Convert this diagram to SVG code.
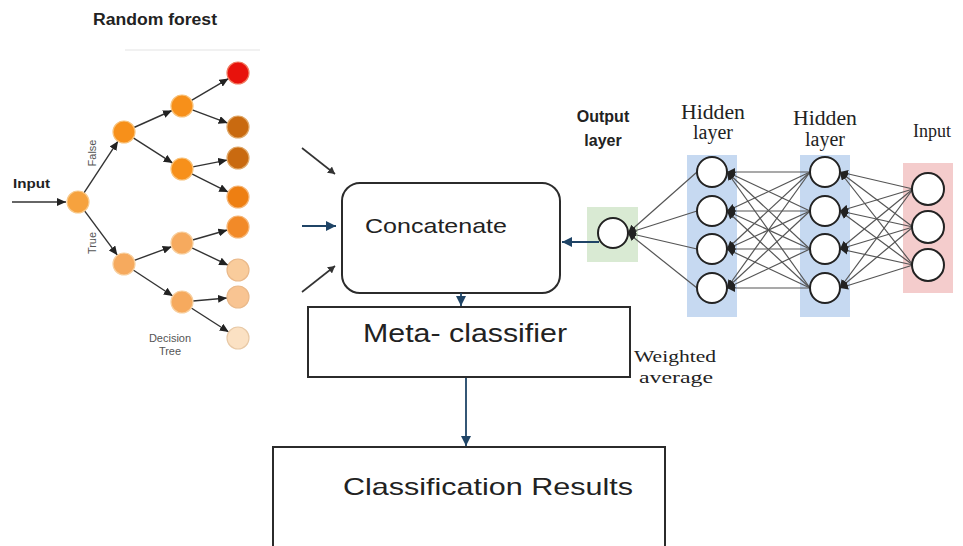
<svg xmlns="http://www.w3.org/2000/svg" width="963" height="546" viewBox="0 0 963 546">
  <defs>
    <style>
      .sans { font-family: "Liberation Sans", Arial, sans-serif; fill: #222; }
      .serif { font-family: "Liberation Serif", "Times New Roman", serif; fill: #222; }
      .muted { fill: #555; }
      .tedge { stroke: #333; stroke-width: 1.4; fill: none; marker-end: url(#tarrow); }
      .tnode { stroke-width: 1.2; }
      .nnedge { stroke: #555; stroke-width: 1.2; fill: none; marker-end: url(#narrow); }
      .nnnode { fill: #fff; stroke: #222; stroke-width: 2; }
      .box { fill: #fff; stroke: #2b2b2b; stroke-width: 2; }
      .flow { stroke: #1f4466; stroke-width: 1.8; fill: none; marker-end: url(#barrow); }
      .flowk { stroke: #333; stroke-width: 1.6; fill: none; marker-end: url(#karrow); }
    </style>
    <marker id="tarrow" markerUnits="userSpaceOnUse" markerWidth="10" markerHeight="8" refX="9" refY="4" orient="auto">
      <path d="M0,0 L9,4 L0,8 Z" fill="#222"/>
    </marker>
    <marker id="narrow" markerUnits="userSpaceOnUse" markerWidth="9" markerHeight="8" refX="8" refY="4" orient="auto">
      <path d="M0,0 L8,4 L0,8 Z" fill="#222"/>
    </marker>
    <marker id="barrow" markerUnits="userSpaceOnUse" markerWidth="11" markerHeight="10" refX="10" refY="5" orient="auto">
      <path d="M0,0 L10,5 L0,10 Z" fill="#1f4466"/>
    </marker>
    <marker id="karrow" markerUnits="userSpaceOnUse" markerWidth="8" markerHeight="8" refX="7" refY="4" orient="auto">
      <path d="M0,0 L7,4 L0,8 Z" fill="#333"/>
    </marker>
  </defs>

  <rect width="963" height="546" fill="#fff"/>

  <!-- Random forest panel -->
  <g id="random-forest">
    <text class="sans" x="93" y="25" font-size="16" font-weight="bold" textLength="124" lengthAdjust="spacingAndGlyphs">Random forest</text>
    <line x1="125" y1="50" x2="260" y2="50" stroke="#ececec" stroke-width="1.5"/>

    <text class="sans" x="13" y="188" font-size="12" font-weight="bold" textLength="37" lengthAdjust="spacingAndGlyphs">Input</text>
    <line class="tedge" x1="12" y1="202" x2="66" y2="202"/>

    <g id="tree-edges">
      <line class="tedge" x1="84" y1="192.8" x2="118" y2="141.2"/>
      <line class="tedge" x1="84.6" y1="210.8" x2="117.4" y2="255.2"/>
      <line class="tedge" x1="134" y1="127.5" x2="172" y2="110.5"/>
      <line class="tedge" x1="133.3" y1="137.9" x2="172.7" y2="163.1"/>
      <line class="tedge" x1="191.5" y1="100.4" x2="228.5" y2="78.6"/>
      <line class="tedge" x1="192.3" y1="109.9" x2="227.7" y2="123.1"/>
      <line class="tedge" x1="192.8" y1="166.9" x2="227.2" y2="160.1"/>
      <line class="tedge" x1="191.8" y1="173.9" x2="228.2" y2="192.1"/>
      <line class="tedge" x1="134.3" y1="260.3" x2="171.7" y2="246.7"/>
      <line class="tedge" x1="133.2" y1="270" x2="172.8" y2="296"/>
      <line class="tedge" x1="192.6" y1="240" x2="227.4" y2="230"/>
      <line class="tedge" x1="191.9" y1="247.8" x2="228.1" y2="265.2"/>
      <line class="tedge" x1="193" y1="301" x2="227" y2="298"/>
      <line class="tedge" x1="191.3" y1="308" x2="228.7" y2="332"/>
    </g>

    <text class="sans muted" transform="translate(96,153) rotate(-90)" font-size="11" text-anchor="middle">False</text>
    <text class="sans muted" transform="translate(96,243) rotate(-90)" font-size="11" text-anchor="middle">True</text>

    <g id="tree-nodes">
      <circle class="tnode" cx="78" cy="202" r="11" fill="#f6a23e" stroke="#f8c98a"/>
      <circle class="tnode" cx="124" cy="132" r="11" fill="#f7901a" stroke="#f8c27a"/>
      <circle class="tnode" cx="182" cy="106" r="11" fill="#f7901a" stroke="#f8c27a"/>
      <circle class="tnode" cx="182" cy="169" r="11" fill="#f7901a" stroke="#f8c27a"/>
      <circle class="tnode" cx="124" cy="264" r="11" fill="#f6aa5e" stroke="#f8cf9e"/>
      <circle class="tnode" cx="182" cy="243" r="11" fill="#f6aa5e" stroke="#f8cf9e"/>
      <circle class="tnode" cx="182" cy="302" r="11" fill="#f6aa5e" stroke="#f8cf9e"/>
      <circle class="tnode" cx="238" cy="73" r="11" fill="#e8120c" stroke="#f07a60"/>
      <circle class="tnode" cx="238" cy="127" r="11" fill="#c96a10" stroke="#e0a868"/>
      <circle class="tnode" cx="238" cy="158" r="11" fill="#c96a10" stroke="#e0a868"/>
      <circle class="tnode" cx="238" cy="197" r="11" fill="#ee7f12" stroke="#f6b677"/>
      <circle class="tnode" cx="238" cy="227" r="11" fill="#f28a28" stroke="#f6b677"/>
      <circle class="tnode" cx="238" cy="270" r="11" fill="#f9cc9c" stroke="#eab98a"/>
      <circle class="tnode" cx="238" cy="297" r="11" fill="#f8c492" stroke="#eab98a"/>
      <circle class="tnode" cx="238" cy="338" r="11" fill="#fbe1c3" stroke="#e8c9a6"/>
    </g>

    <text class="sans muted" x="170" y="342" font-size="11" text-anchor="middle">Decision</text>
    <text class="sans muted" x="170" y="355" font-size="11" text-anchor="middle">Tree</text>
  </g>

  <!-- Neural network panel -->
  <g id="neural-network">
    <rect x="587" y="207" width="51" height="55" fill="#d9ead3"/>
    <rect x="687" y="155" width="50" height="162" fill="#c6d9f1"/>
    <rect x="800" y="155" width="50" height="162" fill="#c6d9f1"/>
    <rect x="903" y="163" width="50" height="130" fill="#f4cccc"/>

    <text class="sans" x="603" y="122" font-size="16" font-weight="bold" text-anchor="middle">Output</text>
    <text class="sans" x="603" y="146" font-size="16" font-weight="bold" text-anchor="middle">layer</text>
    <text class="serif" x="713" y="119" font-size="20" text-anchor="middle" textLength="64" lengthAdjust="spacingAndGlyphs">Hidden</text>
    <text class="serif" x="713" y="139" font-size="20" text-anchor="middle">layer</text>
    <text class="serif" x="825" y="125" font-size="20" text-anchor="middle" textLength="64" lengthAdjust="spacingAndGlyphs">Hidden</text>
    <text class="serif" x="825" y="146" font-size="20" text-anchor="middle">layer</text>
    <text class="serif" x="932" y="137" font-size="18" text-anchor="middle">Input</text>

    <g id="nn-edges">
      <!-- input -> hidden 2 -->
      <line class="nnedge" x1="913" y1="189" x2="840" y2="172"/>
      <line class="nnedge" x1="913" y1="189" x2="840" y2="211"/>
      <line class="nnedge" x1="913" y1="189" x2="840" y2="249"/>
      <line class="nnedge" x1="913" y1="189" x2="840" y2="288"/>
      <line class="nnedge" x1="913" y1="227" x2="840" y2="172"/>
      <line class="nnedge" x1="913" y1="227" x2="840" y2="211"/>
      <line class="nnedge" x1="913" y1="227" x2="840" y2="249"/>
      <line class="nnedge" x1="913" y1="227" x2="840" y2="288"/>
      <line class="nnedge" x1="913" y1="265" x2="840" y2="172"/>
      <line class="nnedge" x1="913" y1="265" x2="840" y2="211"/>
      <line class="nnedge" x1="913" y1="265" x2="840" y2="249"/>
      <line class="nnedge" x1="913" y1="265" x2="840" y2="288"/>
      <!-- hidden 2 -> hidden 1 -->
      <line class="nnedge" x1="810" y1="172" x2="727" y2="172"/>
      <line class="nnedge" x1="810" y1="172" x2="727" y2="211"/>
      <line class="nnedge" x1="810" y1="172" x2="727" y2="249"/>
      <line class="nnedge" x1="810" y1="172" x2="727" y2="288"/>
      <line class="nnedge" x1="810" y1="211" x2="727" y2="172"/>
      <line class="nnedge" x1="810" y1="211" x2="727" y2="211"/>
      <line class="nnedge" x1="810" y1="211" x2="727" y2="249"/>
      <line class="nnedge" x1="810" y1="211" x2="727" y2="288"/>
      <line class="nnedge" x1="810" y1="249" x2="727" y2="172"/>
      <line class="nnedge" x1="810" y1="249" x2="727" y2="211"/>
      <line class="nnedge" x1="810" y1="249" x2="727" y2="249"/>
      <line class="nnedge" x1="810" y1="249" x2="727" y2="288"/>
      <line class="nnedge" x1="810" y1="288" x2="727" y2="172"/>
      <line class="nnedge" x1="810" y1="288" x2="727" y2="211"/>
      <line class="nnedge" x1="810" y1="288" x2="727" y2="249"/>
      <line class="nnedge" x1="810" y1="288" x2="727" y2="288"/>
      <!-- hidden 1 -> output -->
      <line class="nnedge" x1="697" y1="172" x2="628" y2="233"/>
      <line class="nnedge" x1="697" y1="211" x2="628" y2="233"/>
      <line class="nnedge" x1="697" y1="249" x2="628" y2="233"/>
      <line class="nnedge" x1="697" y1="288" x2="628" y2="233"/>
    </g>

    <g id="nn-nodes">
      <circle class="nnnode" cx="613" cy="233" r="15"/>
      <circle class="nnnode" cx="712" cy="172" r="15"/>
      <circle class="nnnode" cx="712" cy="211" r="15"/>
      <circle class="nnnode" cx="712" cy="249" r="15"/>
      <circle class="nnnode" cx="712" cy="288" r="15"/>
      <circle class="nnnode" cx="825" cy="172" r="15"/>
      <circle class="nnnode" cx="825" cy="211" r="15"/>
      <circle class="nnnode" cx="825" cy="249" r="15"/>
      <circle class="nnnode" cx="825" cy="288" r="15"/>
      <circle class="nnnode" cx="928" cy="189" r="16"/>
      <circle class="nnnode" cx="928" cy="227" r="16"/>
      <circle class="nnnode" cx="928" cy="265" r="16"/>
    </g>
  </g>

  <!-- Ensemble flow -->
  <g id="concatenate">
    <rect class="box" x="342" y="183" width="218" height="110" rx="18" ry="18"/>
    <text class="sans" x="365" y="233" font-size="21" textLength="142" lengthAdjust="spacingAndGlyphs">Concatenate</text>
  </g>

  <g id="meta-classifier">
    <rect class="box" x="308" y="307" width="322" height="70"/>
    <text class="sans" x="363" y="342" font-size="25" textLength="204" lengthAdjust="spacingAndGlyphs">Meta- classifier</text>
  </g>

  <g id="weighted-average">
    <text class="serif" x="634" y="362" font-size="17" textLength="82" lengthAdjust="spacingAndGlyphs">Weighted</text>
    <text class="serif" x="639" y="383" font-size="17" textLength="74" lengthAdjust="spacingAndGlyphs">average</text>
  </g>

  <g id="classification-results">
    <rect class="box" x="273" y="447" width="392" height="110"/>
    <text class="sans" x="343" y="495" font-size="24" textLength="290" lengthAdjust="spacingAndGlyphs">Classification Results</text>
  </g>

  <g id="connectors">
    <line class="flowk" x1="302" y1="148" x2="335" y2="174"/>
    <line class="flow" x1="302" y1="226" x2="336" y2="226"/>
    <line class="flowk" x1="302" y1="292" x2="335" y2="266"/>
    <line class="flow" x1="599" y1="242" x2="562" y2="242"/>
    <line class="flow" x1="461" y1="293" x2="461" y2="306"/>
    <line class="flow" x1="466" y1="378" x2="466" y2="446"/>
  </g>
</svg>
